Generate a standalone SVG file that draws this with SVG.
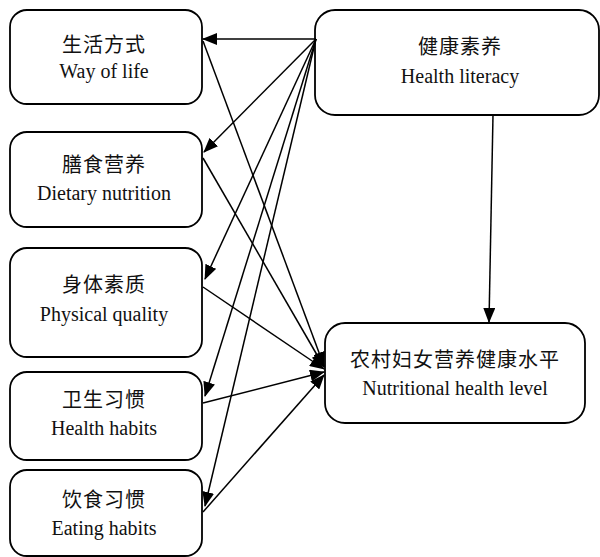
<svg xmlns="http://www.w3.org/2000/svg" width="600" height="557" viewBox="0 0 600 557">
<defs>
<marker id="ah" markerWidth="15" markerHeight="12" refX="14" refY="6" orient="auto" markerUnits="userSpaceOnUse">
<path d="M0,0 L15,6 L0,12 Z" fill="#000"/>
</marker>
</defs>
<style>
.box{fill:#fff;stroke:#000;stroke-width:1.8}
.zh{font-family:"Noto Sans CJK SC",sans-serif;font-size:20px;letter-spacing:1px;fill:#111;text-anchor:middle}
.en{font-family:"Liberation Serif",serif;font-size:20px;fill:#111;text-anchor:middle}
.c line{stroke:#000;stroke-width:1.5;marker-end:url(#ah)}
</style>
<rect width="600" height="557" fill="#fff"/>
<g id="n1"><rect class="box" x="10" y="10" width="192" height="94" rx="17"/><text class="zh" x="104" y="52">生活方式</text><text class="en" x="104" y="78">Way of life</text></g>
<g id="n2"><rect class="box" x="10" y="132" width="192" height="95" rx="17"/><text class="zh" x="104" y="172">膳食营养</text><text class="en" x="104" y="200">Dietary nutrition</text></g>
<g id="n3"><rect class="box" x="10" y="248" width="192" height="109" rx="17"/><text class="zh" x="104" y="292">身体素质</text><text class="en" x="104" y="321">Physical quality</text></g>
<g id="n4"><rect class="box" x="10" y="372" width="192" height="88" rx="17"/><text class="zh" x="104" y="407">卫生习惯</text><text class="en" x="104" y="435">Health habits</text></g>
<g id="n5"><rect class="box" x="10" y="470" width="192" height="86" rx="17"/><text class="zh" x="104" y="507">饮食习惯</text><text class="en" x="104" y="535">Eating habits</text></g>
<g id="hl"><rect class="box" x="315" y="10" width="284" height="105" rx="20"/><text class="zh" x="460" y="54">健康素养</text><text class="en" x="460" y="83">Health literacy</text></g>
<g id="nh"><rect class="box" x="325" y="323" width="260" height="100" rx="20"/><text class="zh" x="455" y="367">农村妇女营养健康水平</text><text class="en" x="455" y="395">Nutritional health level</text></g>
<g class="c">
<line x1="316" y1="39" x2="203" y2="39"/>
<line x1="316" y1="39" x2="204" y2="152"/>
<line x1="316" y1="39" x2="205" y2="279"/>
<line x1="316" y1="39" x2="205" y2="396"/>
<line x1="316" y1="39" x2="205" y2="506"/>
<line x1="493" y1="115" x2="489" y2="322"/>
<line x1="203" y1="41" x2="324" y2="366"/>
<line x1="203" y1="158" x2="324" y2="367"/>
<line x1="203" y1="287" x2="324" y2="369"/>
<line x1="203" y1="403" x2="324" y2="372"/>
<line x1="203" y1="512" x2="324" y2="375"/>
</g>
</svg>
